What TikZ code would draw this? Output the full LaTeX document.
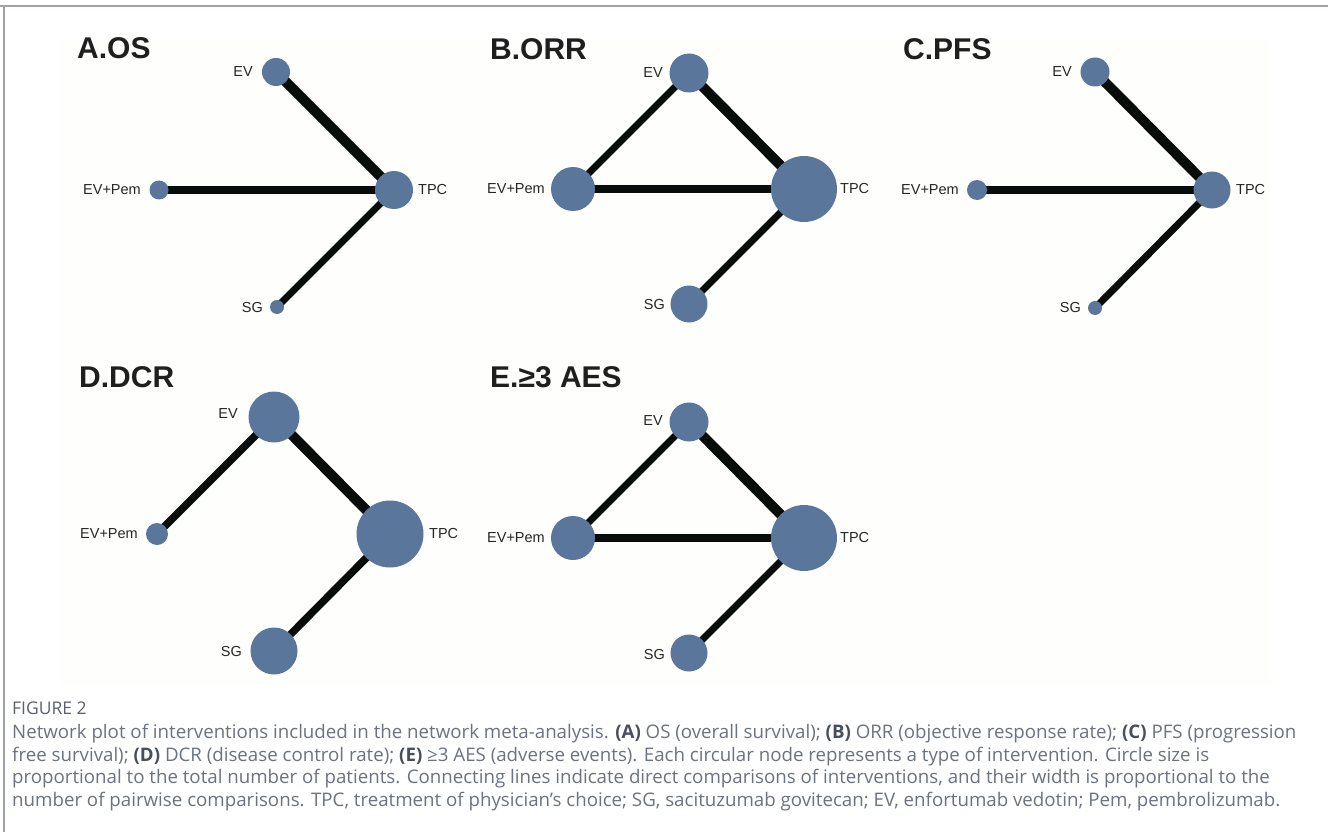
\documentclass[tikz,border=0pt]{standalone}
\usepackage{fontspec}
\setmainfont{Liberation Sans}
\newfontfamily\capfont{Open Sans}
\definecolor{nodeblue}{RGB}{91,118,155}
\definecolor{edgeblack}{RGB}{8,12,11}
\definecolor{frame}{RGB}{160,160,172}
\definecolor{captxt}{RGB}{108,114,128}
\definecolor{capbold}{RGB}{72,78,92}
\definecolor{panelbg}{RGB}{254,254,252}
\pgfdeclarelayer{bg}
\pgfdeclarelayer{edges}
\pgfsetlayers{bg,edges,main}
\begin{document}
\begin{tikzpicture}[x=1pt,y=-1pt,
  nd/.style={circle,fill=nodeblue,draw=none,inner sep=0pt,minimum size=#1pt},
  ed/.style={draw=edgeblack,line width=#1pt},
  lbl/.style={font=\fontsize{14.5}{16}\selectfont,text=black!85,inner sep=0pt},
  ttl/.style={font=\fontsize{30}{32}\selectfont\bfseries,text=black!88,inner sep=0pt,anchor=base west},
  capline/.style={font=\capfont\fontsize{18.7}{20}\selectfont,text=captxt,inner sep=0pt,anchor=mid west}
]
\useasboundingbox (0,0) rectangle (1328,832);
\begin{pgfonlayer}{bg}
\fill[white] (0,0) rectangle (1328,832);
\fill[panelbg] (60,40) rectangle (1270,685);
\end{pgfonlayer}
\draw[frame,line width=1.5pt] (0,6) -- (1328,6);
\draw[frame,line width=1.5pt] (4,6) -- (4,832);

% ---------- Panel A ----------
\node[ttl] (ta) at (77,59) {A.OS};
\node[nd=28] (aEV) at (276,72) {};
\node[nd=38] (aTPC) at (394,190) {};
\node[nd=19] (aEP) at (159,190) {};
\node[nd=14] (aSG) at (277,307) {};
\node[lbl,anchor=east] (laEV) at (253,72) {EV};
\node[lbl,anchor=west] (laTPC) at (418,190) {TPC};
\node[lbl,anchor=east] (laEP) at (141,190) {EV+Pem};
\node[lbl,anchor=east] (laSG) at (263,308) {SG};
\begin{pgfonlayer}{edges}
\draw[ed=10] (aEV.center) -- (aTPC.center);
\draw[ed=8.5] (aEP.center) -- (aTPC.center);
\draw[ed=7] (aSG.center) -- (aTPC.center);
\end{pgfonlayer}

% ---------- Panel B ----------
\node[ttl] (tb) at (490,60) {B.ORR};
\node[nd=39] (bEV) at (689,73) {};
\node[nd=44] (bEP) at (573,189) {};
\node[nd=66] (bTPC) at (804,189) {};
\node[nd=37] (bSG) at (689,304) {};
\node[lbl,anchor=east] (lbEV) at (663,73) {EV};
\node[lbl,anchor=east] (lbEP) at (545,189) {EV+Pem};
\node[lbl,anchor=west] (lbTPC) at (840,189) {TPC};
\node[lbl,anchor=east] (lbSG) at (665,305) {SG};
\begin{pgfonlayer}{edges}
\draw[ed=7] (bEV.center) -- (bEP.center);
\draw[ed=10] (bEV.center) -- (bTPC.center);
\draw[ed=8] (bEP.center) -- (bTPC.center);
\draw[ed=7] (bSG.center) -- (bTPC.center);
\end{pgfonlayer}

% ---------- Panel C ----------
\node[ttl] (tc) at (903,60) {C.PFS};
\node[nd=29] (cEV) at (1095,72) {};
\node[nd=20] (cEP) at (977,190) {};
\node[nd=37] (cTPC) at (1212,190) {};
\node[nd=14] (cSG) at (1095,308) {};
\node[lbl,anchor=east] (lcEV) at (1072,72) {EV};
\node[lbl,anchor=east] (lcEP) at (959,190) {EV+Pem};
\node[lbl,anchor=west] (lcTPC) at (1236,190) {TPC};
\node[lbl,anchor=east] (lcSG) at (1081,308) {SG};
\begin{pgfonlayer}{edges}
\draw[ed=10] (cEV.center) -- (cTPC.center);
\draw[ed=8.5] (cEP.center) -- (cTPC.center);
\draw[ed=7] (cSG.center) -- (cTPC.center);
\end{pgfonlayer}

% ---------- Panel D ----------
\node[ttl] (td) at (79,387) {D.DCR};
\node[nd=51] (dEV) at (274,417) {};
\node[nd=22] (dEP) at (157,534) {};
\node[nd=67] (dTPC) at (390,534) {};
\node[nd=47] (dSG) at (274,651) {};
\node[lbl,anchor=east] (ldEV) at (238,414) {EV};
\node[lbl,anchor=east] (ldEP) at (138,534) {EV+Pem};
\node[lbl,anchor=west] (ldTPC) at (429,534) {TPC};
\node[lbl,anchor=east] (ldSG) at (242,652) {SG};
\begin{pgfonlayer}{edges}
\draw[ed=7.5] (dEV.center) -- (dEP.center);
\draw[ed=10] (dEV.center) -- (dTPC.center);
\draw[ed=7.5] (dSG.center) -- (dTPC.center);
\end{pgfonlayer}

% ---------- Panel E ----------
\node[ttl] (te) at (490,387) {E.≥3 AES};
\node[nd=39] (eEV) at (689,422) {};
\node[nd=44] (eEP) at (573,538) {};
\node[nd=66] (eTPC) at (804,538) {};
\node[nd=37] (eSG) at (689,653) {};
\node[lbl,anchor=east] (leEV) at (663,421) {EV};
\node[lbl,anchor=east] (leEP) at (545,538) {EV+Pem};
\node[lbl,anchor=west] (leTPC) at (840,538) {TPC};
\node[lbl,anchor=east] (leSG) at (665,655) {SG};
\begin{pgfonlayer}{edges}
\draw[ed=7] (eEV.center) -- (eEP.center);
\draw[ed=10] (eEV.center) -- (eTPC.center);
\draw[ed=8] (eEP.center) -- (eTPC.center);
\draw[ed=7] (eSG.center) -- (eTPC.center);
\end{pgfonlayer}

% ---------- Caption ----------
\node[font=\capfont\fontsize{17.5}{19}\selectfont,text=captxt!85!black,inner sep=0pt,anchor=mid west] (fig) at (12,712) {FIGURE 2};
\node[capline] (c1) at (12,736) {Network plot of interventions included in the network meta-analysis. \textcolor{capbold}{\bfseries(A)} OS (overall survival); \textcolor{capbold}{\bfseries(B)} ORR (objective response rate); \textcolor{capbold}{\bfseries(C)} PFS (progression};
\node[capline] (c2) at (12,758.5) {free survival); \textcolor{capbold}{\bfseries(D)} DCR (disease control rate); \textcolor{capbold}{\bfseries(E)} ≥3 AES (adverse events). Each circular node represents a type of intervention. Circle size is};
\node[capline] (c3) at (12,781) {proportional to the total number of patients. Connecting lines indicate direct comparisons of interventions, and their width is proportional to the};
\node[capline] (c4) at (12,803.5) {number of pairwise comparisons. TPC, treatment of physician’s choice; SG, sacituzumab govitecan; EV, enfortumab vedotin; Pem, pembrolizumab.};
\end{tikzpicture}
\end{document}
